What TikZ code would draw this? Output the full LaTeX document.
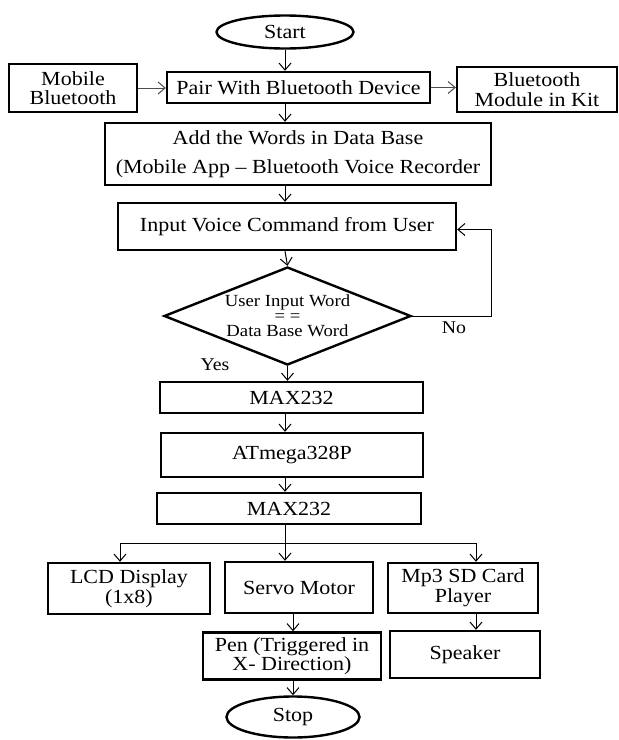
\documentclass[tikz,border=0pt]{standalone}
\usepackage{fontspec}
\setmainfont[FakeStretch=1.1]{Liberation Serif}
\usetikzlibrary{shapes,arrows,arrows.meta,positioning,calc}

\begin{document}
\begin{tikzpicture}[x=0.5pt,y=-0.5pt,
    box/.style={draw, line width=1.2pt, align=center, inner sep=1pt, font=\fontsize{10}{9.8}\selectfont},
    term/.style={draw, ellipse, line width=1.2pt, inner sep=0pt, font=\fontsize{10}{12}\selectfont},
    decide/.style={draw, diamond, line width=1.2pt, inner sep=0pt},
    link/.style={-{Straight Barb[length=3.5pt,width=6pt]}, line width=0.5pt},
    note/.style={font=\fontsize{9}{11}\selectfont}]
    \useasboundingbox (0,0) rectangle (619,740);
    \node[term, minimum width=68.5pt, minimum height=16.5pt] (start) at (285,32) {Start};
    \node[box, minimum width=64pt, minimum height=24pt] (mobile) at (73,88) {Mobile\\Bluetooth};
    \node[box, minimum width=131.5pt, minimum height=15.5pt] (pair) at (298.5,87.5) {Pair With Bluetooth Device};
    \node[box, minimum width=80pt, minimum height=22.5pt] (module) at (537,89.5) {Bluetooth\\Module in Kit};
    \node[box, minimum width=193pt, minimum height=31pt] (words) at (298,154) {Add the Words in Data Base\\[5pt](Mobile App -- Bluetooth Voice Recorder};
    \node[box, minimum width=169pt, minimum height=23.5pt] (input) at (287,226.5) {Input Voice Command from User};
    \node[decide, minimum width=123.5pt, minimum height=49pt,
        label={[align=center, font=\fontsize{8.5}{7.6}\selectfont]center:User Input Word\\= =\\Data Base Word}] (match) at (287.5,316) {};
    \node[box, minimum width=131.5pt, minimum height=15.5pt] (maxa) at (291.5,397.5) {MAX232};
    \node[box, minimum width=131pt, minimum height=22pt] (mcu) at (292,455) {ATmega328P};
    \node[box, minimum width=132pt, minimum height=15.5pt] (maxb) at (289,508.5) {MAX232};
    \node[box, minimum width=81pt, minimum height=25.5pt] (lcd) at (129,588.5) {LCD Display\\(1x8)};
    \node[box, minimum width=74pt, minimum height=25.5pt] (servo) at (299,587.5) {Servo Motor};
    \node[box, minimum width=75pt, minimum height=25pt] (mp3) at (463,588) {Mp3 SD Card\\Player};
    \node[box, minimum width=89pt, minimum height=23.5pt] (pen) at (292,656) {Pen (Triggered in\\X- Direction)};
    \node[box, minimum width=75pt, minimum height=23.5pt] (speaker) at (465,654.5) {Speaker};
    \node[term, minimum width=66.5pt, minimum height=20.5pt] (stop) at (293,717) {Stop};
    \coordinate (split) at (285,543);
    \coordinate (lcdtop) at (120,543);
    \coordinate (mp3top) at (476,543);
    \node[note] (no) at (454,328) {No};
    \node[note] (yes) at (215,365) {Yes};

    \draw[link] (start.south -| start) -- (pair.north -| start);
    \draw[link, black!70] (mobile.east) -- (mobile.east -| pair.west);
    \draw[link, black!70] (pair.east) -- (pair.east -| module.west);
    \draw[link] (pair.south -| start) -- (words.north -| start);
    \draw[link] (words.south -| start) -- (input.north -| start);
    \draw[link] (input.south -| start) -- (match.north);
    \draw[link] (match.east) -- ++(79,0) |- ($(input.east)+(0,3)$);
    \draw[link] (match.south) -- (maxa.north -| match.south);
    \draw[link] (maxa.south -| start) -- (mcu.north -| start);
    \draw[link] (mcu.south -| start) -- (maxb.north -| start);
    \draw (maxb.south -| split) -- (split);
    \draw (lcdtop) -- (mp3top);
    \draw[link] (lcdtop) -- (lcdtop |- lcd.north);
    \draw[link] (split) -- (split |- servo.north);
    \draw[link] (mp3top) -- (mp3top |- mp3.north);
    \draw[link] (servo.south -| stop) -- (pen.north -| stop);
    \draw[link] (mp3.south -| mp3top) -- (speaker.north -| mp3top);
    \draw[link] (pen.south -| stop) -- (stop.north);
\end{tikzpicture}
\end{document}
